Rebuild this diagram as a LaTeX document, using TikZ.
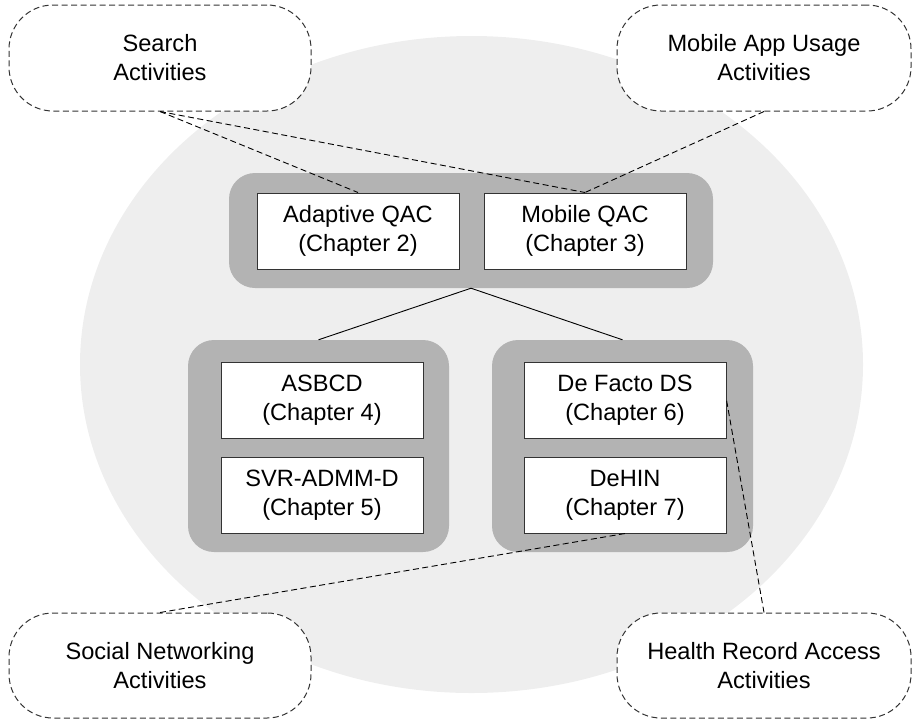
\documentclass[tikz,border=0pt]{standalone}
\usepackage{fontspec}
\setmainfont{Liberation Sans}
\usetikzlibrary{shapes.geometric}
\definecolor{bgell}{HTML}{EEEEEE}
\definecolor{grp}{HTML}{B3B3B3}
\definecolor{edge}{HTML}{333333}
\tikzset{
  grpbox/.style={rectangle, rounded corners=26pt, fill=grp, draw=none, inner sep=0pt},
  chapbox/.style={rectangle, draw=edge, line width=1pt, fill=white, minimum width=202pt, minimum height=76pt, inner sep=0pt, align=center, font=\fontsize{23.6}{29}\selectfont},
  actpill/.style={rectangle, rounded corners=44pt, draw=edge, dash pattern=on 6pt off 3.5pt, line width=1pt, fill=white, minimum height=106pt, inner sep=0pt, align=center, font=\fontsize{23.6}{29}\selectfont},
  solidlink/.style={draw=black, line width=0.9pt},
  dashlink/.style={draw=black, line width=0.9pt, dash pattern=on 6pt off 3.5pt}
}
\begin{document}
\begin{tikzpicture}[x=1pt, y=-1pt]
\useasboundingbox (0,0) rectangle (912,721);
% background ellipse
\node[ellipse, fill=bgell, draw=none, minimum width=783pt, minimum height=657pt, inner sep=0pt] (bg) at (471.5,364.5) {};
% groups
\node[grpbox, minimum width=484pt, minimum height=115pt] (gtop) at (471,230.5) {};
\node[grpbox, minimum width=261pt, minimum height=212pt] (gleft) at (318.5,446) {};
\node[grpbox, minimum width=261pt, minimum height=212pt] (gright) at (622.5,446) {};
% chapter boxes
\node[chapbox] (aqac) at (358,231) {Adaptive QAC\\(Chapter 2)};
\node[chapbox] (mqac) at (585,231) {Mobile QAC\\(Chapter 3)};
\node[chapbox] (asbcd) at (322,400) {ASBCD\\(Chapter 4)};
\node[chapbox] (svr) at (322,495) {SVR-ADMM-D\\(Chapter 5)};
\node[chapbox] (dfds) at (625,400) {De Facto DS\\(Chapter 6)};
\node[chapbox] (dehin) at (625,495) {DeHIN\\(Chapter 7)};
% activity pills
\node[actpill, minimum width=302pt] (search) at (160,58) {Search\\Activities};
\node[actpill, minimum width=294pt] (mapp) at (764,58) {Mobile App Usage\\Activities};
\node[actpill, minimum width=302pt, minimum height=105pt] (social) at (160,665.5) {Social Networking\\Activities};
\node[actpill, minimum width=294pt, minimum height=105pt] (health) at (764,665.5) {Health Record Access\\Activities};
% solid connectors
\draw[solidlink] (gtop.south) -- (gleft.north);
\draw[solidlink] (gtop.south) -- (gright.north);
% dashed connectors
\draw[dashlink] (search.south) -- (aqac.north);
\draw[dashlink] (search.south) -- (mqac.north);
\draw[dashlink] (mapp.south) -- (mqac.north);
\draw[dashlink] (social.north) -- (dehin.south);
\draw[dashlink] (health.north) -- (dfds.east);
\end{tikzpicture}
\end{document}
